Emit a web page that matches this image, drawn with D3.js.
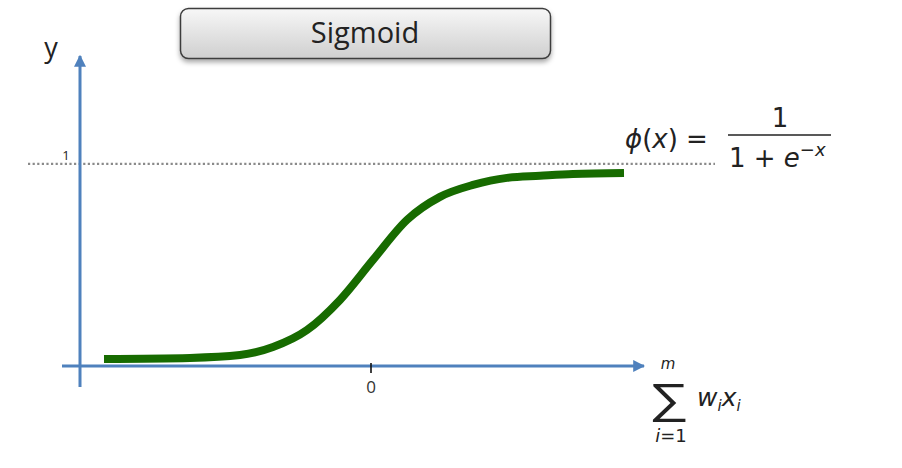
<!DOCTYPE html>
<html>
<head>
<meta charset="utf-8">
<script src="https://cdn.jsdelivr.net/npm/d3@7"></script>
<style>
  html, body { margin: 0; padding: 0; background: #fff; }
  svg { display: block; }
</style>
</head>
<body>
<svg id="chart" width="902" height="468"></svg>
<script>
// ---- data ----
const curveX = [-5.34, -3.62, -2.62, -1.96, -1.28, -0.62, 0.04, 0.72, 1.38, 2.04, 2.72, 3.38, 4.04, 5.06];
const curveY = [0.035, 0.04, 0.054, 0.094, 0.178, 0.327, 0.525, 0.723, 0.837, 0.896, 0.931, 0.941, 0.950, 0.955];
const xTicks = [0];
const xTickLabels = ["0"];
const yRefValue = 1;
const yRefLabel = "1";
const titleText = "Sigmoid";
const yAxisLabel = "y";

const svg = d3.select("#chart");

// scales: x=0 at px 371, 50 px/unit; y=0 at px 366, y=1 at px 164
const x = d3.scaleLinear().domain([-6.18, 5.48]).range([62, 645]);
const y = d3.scaleLinear().domain([-0.104, 1.539]).range([387, 55]);

const defs = svg.append("defs");
const grad = defs.append("linearGradient").attr("id", "btnGrad")
  .attr("x1", 0).attr("y1", 0).attr("x2", 0).attr("y2", 1);
grad.append("stop").attr("offset", "0%").attr("stop-color", "#f7f7f7");
grad.append("stop").attr("offset", "100%").attr("stop-color", "#cfcfcf");
const filt = defs.append("filter").attr("id", "shadow")
  .attr("x", "-10%").attr("y", "-30%").attr("width", "120%").attr("height", "170%");
filt.append("feDropShadow").attr("dx", 0).attr("dy", 3).attr("stdDeviation", 2.5)
  .attr("flood-color", "#000").attr("flood-opacity", 0.35);

const axisBlue = "#4f81bd";
const arrow = defs.append("marker").attr("id", "arrowHead")
  .attr("viewBox", "0 0 10 10").attr("refX", 9).attr("refY", 5)
  .attr("markerWidth", 4).attr("markerHeight", 4)
  .attr("markerUnits", "strokeWidth").attr("orient", "auto");
arrow.append("path").attr("d", "M0,0 L10,5 L0,10 Z").attr("fill", axisBlue);

// title button
const tb = svg.append("g");
tb.append("rect").attr("x", 180.5).attr("y", 8.5).attr("width", 370).attr("height", 50)
  .attr("rx", 8).attr("ry", 8)
  .attr("fill", "url(#btnGrad)").attr("stroke", "#3d3d3d").attr("stroke-width", 1.5)
  .attr("filter", "url(#shadow)");
tb.append("text").attr("x", 365).attr("y", 43).attr("text-anchor", "middle")
  .attr("font-family", "'Open Sans', sans-serif").attr("font-size", 29)
  .attr("fill", "#222").text(titleText);

// dotted reference line y = 1
svg.append("line")
  .attr("x1", 28).attr("x2", 715)
  .attr("y1", y(yRefValue)).attr("y2", y(yRefValue))
  .attr("stroke", "#8a8a8a").attr("stroke-width", 2.2)
  .attr("stroke-dasharray", "2.2,2.4");
svg.append("text").attr("x", 66).attr("y", y(yRefValue) - 4)
  .attr("text-anchor", "middle")
  .attr("font-family", "'Open Sans', sans-serif").attr("font-size", 13)
  .attr("fill", "#222").text(yRefLabel);

// axes (drawn from scales)
svg.append("line")
  .attr("x1", x.range()[0]).attr("x2", x.range()[1] - 1)
  .attr("y1", y(0)).attr("y2", y(0))
  .attr("stroke", axisBlue).attr("stroke-width", 3)
  .attr("marker-end", "url(#arrowHead)");
svg.append("line")
  .attr("x1", x(-6.18) + 18).attr("x2", x(-6.18) + 18)
  .attr("y1", y.range()[0]).attr("y2", y.range()[1] + 1)
  .attr("stroke", axisBlue).attr("stroke-width", 3)
  .attr("marker-end", "url(#arrowHead)");

// x tick
const xt = svg.append("g").attr("transform", `translate(0,${y(0)})`);
xt.selectAll("line.tick").data(xTicks).join("line")
  .attr("x1", d => x(d)).attr("x2", d => x(d))
  .attr("y1", -3).attr("y2", 7)
  .attr("stroke", "#111").attr("stroke-width", 1.6);
xt.selectAll("text.tick").data(xTicks).join("text")
  .attr("x", d => x(d)).attr("y", 27).attr("text-anchor", "middle")
  .attr("font-family", "'Open Sans', sans-serif").attr("font-size", 17)
  .attr("fill", "#333").text((d, i) => xTickLabels[i]);

// y label
svg.append("text").attr("x", 51).attr("y", 57).attr("text-anchor", "middle")
  .attr("font-family", "'Open Sans', sans-serif").attr("font-size", 27)
  .attr("fill", "#222").text(yAxisLabel);

// sigmoid curve
const pts = curveX.map((v, i) => [v, curveY[i]]);
svg.append("path").datum(pts)
  .attr("d", d3.line().x(d => x(d[0])).y(d => y(d[1])).curve(d3.curveMonotoneX))
  .attr("fill", "none").attr("stroke", "#176b00").attr("stroke-width", 8);

// formula phi(x) = 1 / (1 + e^-x)
const mf = "'DejaVu Sans', sans-serif";
const f1 = svg.append("text").attr("x", 625).attr("y", 148)
  .attr("font-family", mf).attr("font-size", 26).attr("fill", "#222");
f1.append("tspan").attr("font-style", "italic").text("ϕ");
f1.append("tspan").text("(");
f1.append("tspan").attr("font-style", "italic").text("x");
f1.append("tspan").text(") =");
svg.append("line").attr("x1", 728).attr("x2", 831).attr("y1", 135).attr("y2", 135)
  .attr("stroke", "#222").attr("stroke-width", 1.6);
svg.append("text").attr("x", 780).attr("y", 127).attr("text-anchor", "middle")
  .attr("font-family", mf).attr("font-size", 26).attr("fill", "#222").text("1");
const den = svg.append("text").attr("x", 729).attr("y", 167)
  .attr("font-family", mf).attr("font-size", 26).attr("fill", "#222");
den.append("tspan").text("1 + ");
den.append("tspan").attr("font-style", "italic").text("e");
den.append("tspan").attr("font-size", 18).attr("dy", -11).text("−");
den.append("tspan").attr("font-size", 18).attr("font-style", "italic").text("x");

// x-axis label: sum_{i=1}^{m} w_i x_i
svg.append("text")
  .attr("transform", "translate(669,413) scale(1.35,1)")
  .attr("text-anchor", "middle")
  .attr("font-family", mf).attr("font-size", 42).attr("font-weight", 300)
  .attr("fill", "#222").text("∑");
svg.append("text").attr("x", 668).attr("y", 369).attr("text-anchor", "middle")
  .attr("font-family", mf).attr("font-size", 15).attr("font-style", "italic")
  .attr("fill", "#222").text("m");
const sl = svg.append("text").attr("x", 671).attr("y", 442).attr("text-anchor", "middle")
  .attr("font-family", mf).attr("font-size", 18).attr("fill", "#222");
sl.append("tspan").attr("font-style", "italic").text("i");
sl.append("tspan").text("=1");
const wx = svg.append("text").attr("x", 697).attr("y", 406)
  .attr("font-family", mf).attr("font-size", 25).attr("fill", "#222");
wx.append("tspan").attr("font-style", "italic").text("w");
wx.append("tspan").attr("font-style", "italic").attr("font-size", 15).attr("dy", 5).text("i");
wx.append("tspan").attr("font-style", "italic").attr("dy", -5).text("x");
wx.append("tspan").attr("font-style", "italic").attr("font-size", 15).attr("dy", 5).text("i");
</script>
</body>
</html>
